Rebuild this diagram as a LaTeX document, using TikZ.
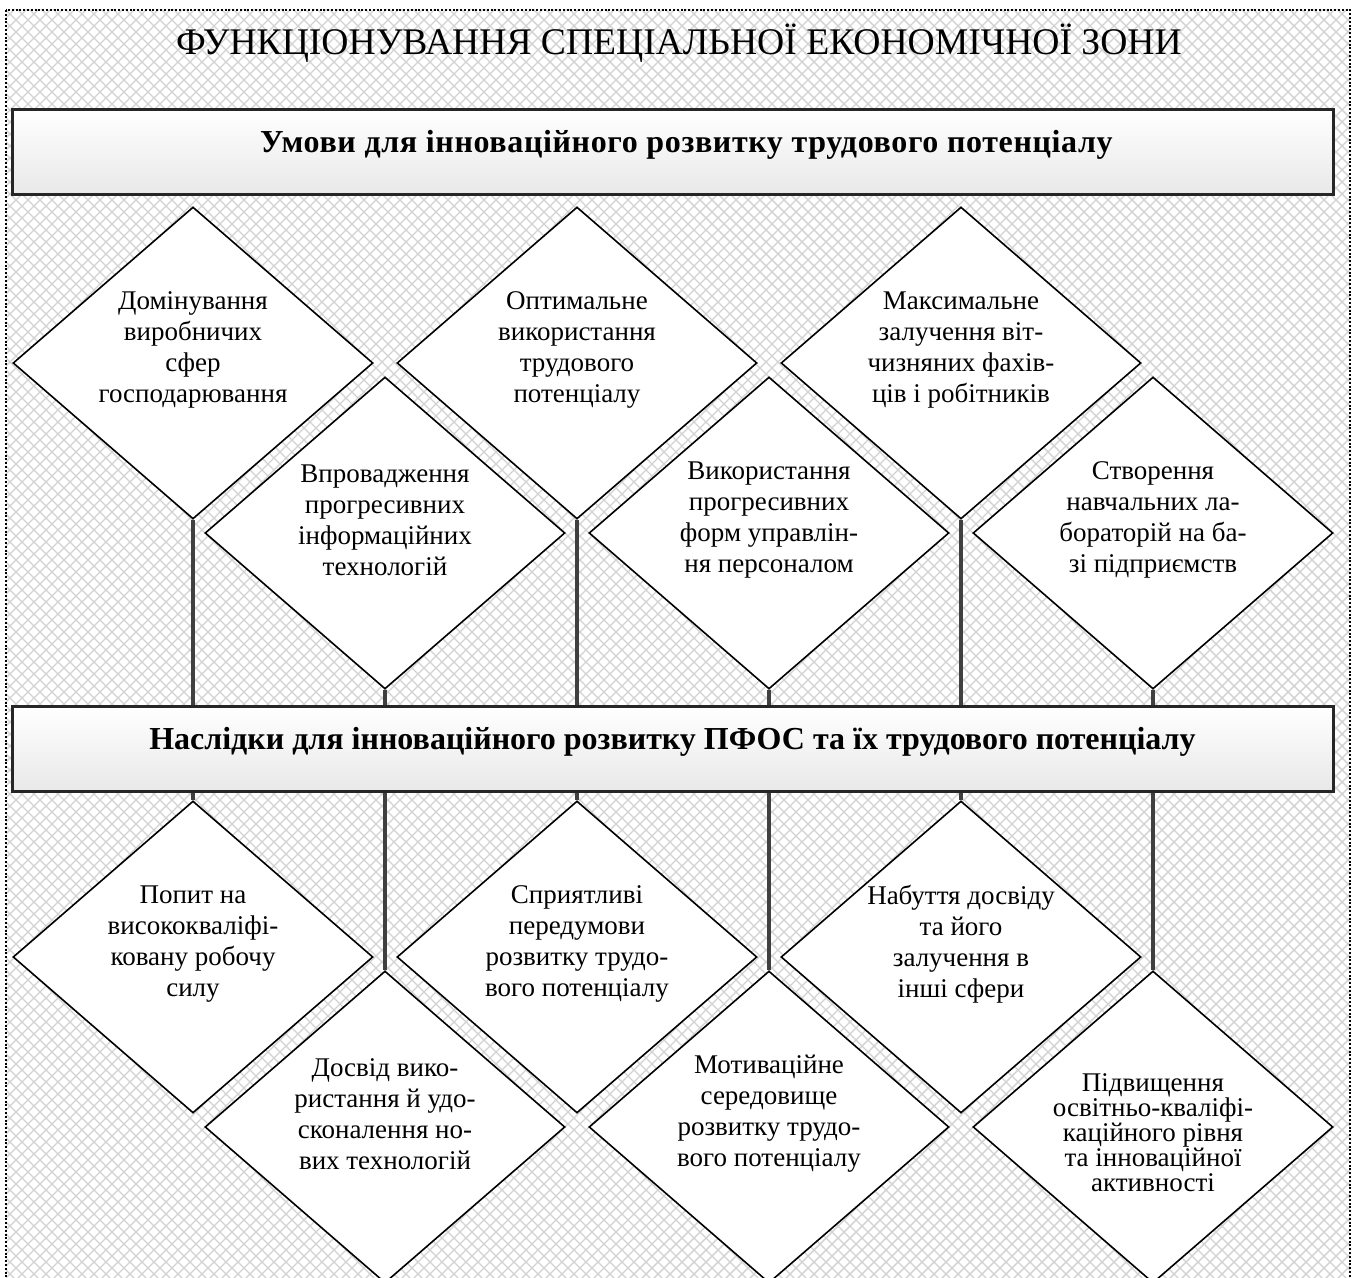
\documentclass[tikz,border=0pt]{standalone}
\usepackage{fontspec}
\setmainfont{Liberation Serif}
\usetikzlibrary{shapes.geometric}

\begin{document}
\begin{tikzpicture}[
  x=0.5pt, y=-0.5pt,
  hatch/.style={gray!35, line width=0.7pt},
  frame/.style={dash pattern=on 1pt off 0.9pt, line width=1.1pt},
  title/.style={anchor=base, font=\fontsize{18.8}{22}\selectfont},
  header/.style={rectangle, draw=black!85, line width=1.5pt,
    top color=white, bottom color=gray!18,
    minimum width=660.5pt, minimum height=42.5pt,
    text height=8pt, text depth=8pt,
    font=\bfseries\fontsize{16}{19}\selectfont},
  item/.style={diamond, draw, fill=white, line width=0.8pt,
    minimum width=180pt, minimum height=156pt, inner sep=0pt},
  itemtext/.style={align=center, yshift=6.5pt,
    font=\fontsize{13.5}{15.5}\selectfont},
  link/.style={draw=black!75, line width=1.6pt}
]
  \useasboundingbox (0,0) rectangle (1356,1278);

  % hatched field inside the dotted frame
  \begin{scope}
    \clip (6,10) rectangle (1350,1290);
    \foreach \k in {0,12,...,2664} {
      \draw[hatch] (\k-1300,0) -- ++(1300,1300);
      \draw[hatch] (\k,0) -- ++(-1300,1300);
    }
  \end{scope}
  \draw[frame] (6,10) rectangle (1350,1290);

  \node[title] (title) at (679,55) {ФУНКЦІОНУВАННЯ СПЕЦІАЛЬНОЇ ЕКОНОМІЧНОЇ ЗОНИ};

  \node[header] (conds) at (672.5,152.5)
    {\hspace*{14pt}\addfontfeature{LetterSpace=2}Умови для інноваційного розвитку трудового потенціалу};
  \node[header] (effects) at (672.5,749) {Наслідки для інноваційного розвитку ПФОС та їх трудового потенціалу};

  % conditions
  \node[item] (c1) at (193,363) {};
  \node[item] (c2) at (385,533) {};
  \node[item] (c3) at (577,363) {};
  \node[item] (c4) at (769,533) {};
  \node[item] (c5) at (961,363) {};
  \node[item] (c6) at (1153,533) {};
  \node[itemtext] (c1t) at (c1) {Домінування\\виробничих\\сфер\\господарювання};
  \node[itemtext] (c2t) at (c2) {Впровадження\\прогресивних\\інформаційних\\технологій};
  \node[itemtext] (c3t) at (c3) {Оптимальне\\використання\\трудового\\потенціалу};
  \node[itemtext] (c4t) at (c4) {Використання\\прогресивних\\форм управлін-\\ня персоналом};
  \node[itemtext] (c5t) at (c5) {Максимальне\\залучення віт-\\чизняних фахів-\\ців і робітників};
  \node[itemtext] (c6t) at (c6) {Створення\\навчальних ла-\\бораторій на ба-\\зі підприємств};

  % effects
  \node[item] (e1) at (193,957) {};
  \node[item] (e2) at (385,1127) {};
  \node[item] (e3) at (577,957) {};
  \node[item] (e4) at (769,1127) {};
  \node[item] (e5) at (961,957) {};
  \node[item] (e6) at (1153,1127) {};
  \node[itemtext] (e1t) at (e1) {Попит на\\висококваліфі-\\ковану робочу\\силу};
  \node[itemtext] (e2t) at (e2) {Досвід вико-\\ристання й удо-\\сконалення но-\\вих технологій};
  \node[itemtext] (e3t) at (e3) {Сприятливі\\передумови\\розвитку трудо-\\вого потенціалу};
  \node[itemtext] (e4t) at (e4) {Мотиваційне\\середовище\\розвитку трудо-\\вого потенціалу};
  \node[itemtext] (e5t) at (e5) {Набуття досвіду\\та його\\залучення в\\інші сфери};
  \node[itemtext, yshift=-9.5pt, font=\fontsize{13.5}{12.5}\selectfont] (e6t) at (e6)
    {Підвищення\\освітньо-кваліфі-\\каційного рівня\\та інноваційної\\активності};

  \foreach \n in {c1,c2,c3,c4,c5,c6}
    \draw[link] (\n.south) -- (\n.south |- effects.north);
  \foreach \n in {e1,e2,e3,e4,e5,e6}
    \draw[link] (effects.south -| \n.north) -- (\n.north);
\end{tikzpicture}
\end{document}
